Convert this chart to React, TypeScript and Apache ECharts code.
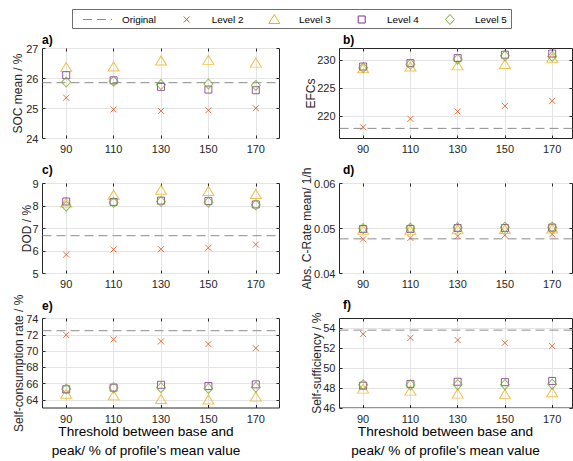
import React, { useEffect, useRef } from 'react';
import * as echarts from 'echarts';

// ---------- data ----------
const thresholds = [90, 110, 130, 150, 170];

const socOrig = 25.86;
const socL2 = [25.36, 24.97, 24.92, 24.94, 25.01];
const socL3 = [26.38, 26.4, 26.6, 26.62, 26.53];
const socL4 = [26.11, 25.94, 25.72, 25.63, 25.61];
const socL5 = [25.88, 25.91, 25.8, 25.82, 25.77];

const efcOrig = 217.8;
const efcL2 = [218.0, 219.5, 220.8, 221.8, 222.7];
const efcL3 = [228.5, 228.8, 229.0, 229.25, 230.35];
const efcL4 = [228.8, 229.4, 230.3, 230.9, 231.1];
const efcL5 = [228.6, 229.2, 230.1, 230.7, 230.6];

const dodOrig = 6.68;
const dodL2 = [5.84, 6.07, 6.08, 6.14, 6.29];
const dodL3 = [8.15, 8.5, 8.72, 8.67, 8.53];
const dodL4 = [8.2, 8.18, 8.24, 8.22, 8.07];
const dodL5 = [7.99, 8.15, 8.2, 8.17, 8.05];

const crOrig = 0.0477;
const crL2 = [0.0476, 0.0479, 0.0483, 0.0485, 0.0487];
const crL3 = [0.0497, 0.0497, 0.0498, 0.0499, 0.05];
const crL4 = [0.0499, 0.0499, 0.0501, 0.0501, 0.0502];
const crL5 = [0.05, 0.0501, 0.0502, 0.0503, 0.0503];

const scOrig = 72.5;
const scL2 = [71.98, 71.44, 71.19, 70.86, 70.36];
const scL3 = [64.75, 64.55, 64.1, 64.05, 64.4];
const scL4 = [65.3, 65.5, 65.85, 65.7, 65.9];
const scL5 = [65.35, 65.5, 65.5, 65.4, 65.55];

const ssOrig = 53.83;
const ssL2 = [53.43, 53.06, 52.83, 52.56, 52.23];
const ssL3 = [47.95, 47.75, 47.45, 47.4, 47.58];
const ssL4 = [48.25, 48.42, 48.64, 48.6, 48.72];
const ssL5 = [48.35, 48.32, 48.35, 48.35, 48.4];

const socTicks = [24, 25, 26, 27];
const efcTicks = [220, 225, 230];
const dodTicks = [5, 6, 7, 8, 9];
const crTicks = [0.04, 0.05, 0.06];
const scTicks = [64, 66, 68, 70, 72, 74];
const ssTicks = [46, 48, 50, 52, 54];

const seriesNames = ['Original', 'Level 2', 'Level 3', 'Level 4', 'Level 5'];
const xLabelLines = ['Threshold between base and', "peak/ % of profile's mean value"];

// ---------- styling ----------
const FONT = "'Liberation Sans', Arial, Helvetica, sans-serif";
const AX = '#262626';
const GRIDC = '#e4e4e4';
const CORIG = '#8c8c8c';
const C2 = '#D95319';
const C3 = '#EDB120';
const C4 = '#7E2F8E';
const C5 = '#77AC30';

const levelStyles = [
  { color: C2, symbol: 'path://M0,0L10,10M10,0L0,10', size: 6 },
  { color: C3, symbol: 'triangle', size: [11, 9] },
  { color: C4, symbol: 'rect', size: 7 },
  { color: C5, symbol: 'diamond', size: [9, 10] },
];

const panels = [
  { letter: 'a)', yName: 'SOC mean / %', yMin: 24, yMax: 27, yTicks: socTicks, dec: 0, orig: socOrig, levels: [socL2, socL3, socL4, socL5] },
  { letter: 'b)', yName: 'EFCs', yMin: 216, yMax: 232, yTicks: efcTicks, dec: 0, orig: efcOrig, levels: [efcL2, efcL3, efcL4, efcL5] },
  { letter: 'c)', yName: 'DOD / %', yMin: 5, yMax: 9, yTicks: dodTicks, dec: 0, orig: dodOrig, levels: [dodL2, dodL3, dodL4, dodL5] },
  { letter: 'd)', yName: 'Abs. C-Rate mean/ 1/h', yMin: 0.04, yMax: 0.06, yTicks: crTicks, dec: 2, orig: crOrig, levels: [crL2, crL3, crL4, crL5] },
  { letter: 'e)', yName: 'Self-consumption rate / %', yMin: 63, yMax: 74, yTicks: scTicks, dec: 0, orig: scOrig, levels: [scL2, scL3, scL4, scL5] },
  { letter: 'f)', yName: 'Self-sufficiency / %', yMin: 46, yMax: 55, yTicks: ssTicks, dec: 0, orig: ssOrig, levels: [ssL2, ssL3, ssL4, ssL5] },
];

const layouts = [
  { left: 42.5, top: 48.5, width: 237, height: 90, xMax: 180, nameX: 18, letterX: 42, letterY: 40 },
  { left: 339.5, top: 48.5, width: 233, height: 90, xMax: 178.6, nameX: 311, letterX: 343, letterY: 40 },
  { left: 42.5, top: 183.5, width: 237, height: 90, xMax: 180, nameX: 26.5, letterX: 42, letterY: 170 },
  { left: 339.5, top: 183.5, width: 233, height: 90, xMax: 178.6, nameX: 306.5, letterX: 343, letterY: 170 },
  { left: 42.5, top: 318.5, width: 237, height: 89.5, xMax: 180, nameX: 18.5, letterX: 42, letterY: 306 },
  { left: 339.5, top: 318.5, width: 233, height: 89.5, xMax: 178.6, nameX: 316.5, letterX: 343, letterY: 305 },
];

const xNameCenters = [146, 445.5];
const xNameLineY = [431.5, 450.5];

function buildOption() {
  const grid: any[] = [];
  const xAxis: any[] = [];
  const yAxis: any[] = [];
  const series: any[] = [];
  const graphic: any[] = [];

  panels.forEach((p, i) => {
    const L = layouts[i];
    grid.push({
      left: L.left, top: L.top, width: L.width, height: L.height,
      show: true, borderColor: AX, borderWidth: 1, backgroundColor: 'transparent',
      containLabel: false, outerBoundsMode: 'none',
    });
    const tickCommon = { show: true, inside: true, length: 3, lineStyle: { color: AX, width: 1 } };
    xAxis.push({
      gridIndex: i, type: 'value', min: 80, max: L.xMax, position: 'bottom',
      axisLine: { show: false },
      axisTick: { ...tickCommon, customValues: thresholds },
      axisLabel: { show: true, customValues: thresholds, color: AX, fontSize: 11, fontFamily: FONT, margin: 5 },
      splitLine: { show: true, lineStyle: { color: GRIDC, width: 1 } },
    });
    xAxis.push({
      gridIndex: i, type: 'value', min: 80, max: L.xMax, position: 'top',
      axisLine: { show: false },
      axisTick: { ...tickCommon, customValues: thresholds },
      axisLabel: { show: false, customValues: thresholds },
      splitLine: { show: false },
    });
    yAxis.push({
      gridIndex: i, type: 'value', min: p.yMin, max: p.yMax, position: 'left',
      axisLine: { show: false },
      axisTick: { ...tickCommon, customValues: p.yTicks },
      axisLabel: {
        show: true, customValues: p.yTicks, color: AX, fontSize: 11, fontFamily: FONT, margin: 4,
        formatter: (v: number) => v.toFixed(p.dec),
      },
      splitLine: { show: true, lineStyle: { color: GRIDC, width: 1 } },
    });
    yAxis.push({
      gridIndex: i, type: 'value', min: p.yMin, max: p.yMax, position: 'right',
      axisLine: { show: false },
      axisTick: { ...tickCommon, customValues: p.yTicks },
      axisLabel: { show: false, customValues: p.yTicks },
      splitLine: { show: false },
    });

    series.push({
      name: seriesNames[0], type: 'line', xAxisIndex: 2 * i, yAxisIndex: 2 * i,
      data: [[80, p.orig], [L.xMax, p.orig]], symbol: 'none', silent: true,
      lineStyle: { color: CORIG, width: 1, type: [9, 5] }, z: 3,
    });
    p.levels.forEach((vals, k) => {
      const st = levelStyles[k];
      series.push({
        name: seriesNames[k + 1], type: 'scatter', xAxisIndex: 2 * i, yAxisIndex: 2 * i,
        data: thresholds.map((t, j) => [t, vals[j]]),
        symbol: st.symbol, symbolSize: st.size, silent: true, z: 4 + k,
        itemStyle: { color: 'transparent', borderColor: st.color, borderWidth: 1 },
      });
    });

    graphic.push({
      type: 'text', x: L.letterX, y: L.letterY,
      style: { text: p.letter, fontSize: 12, fontWeight: 'bold', fontFamily: FONT, fill: '#000', align: 'left', verticalAlign: 'middle' },
    });
    graphic.push({
      type: 'text', x: L.nameX, y: L.top + L.height / 2, rotation: Math.PI / 2,
      style: { text: p.yName, fontSize: 12, fontFamily: FONT, fill: AX, align: 'center', verticalAlign: 'middle' },
    });
  });

  xNameCenters.forEach((cx) => {
    xLabelLines.forEach((t, j) => {
      graphic.push({
        type: 'text', x: cx, y: xNameLineY[j],
        style: { text: t, fontSize: 13.6, fontFamily: FONT, fill: '#000', align: 'center', verticalAlign: 'middle' },
      });
    });
  });

  // legend
  const ly = 19.5;
  const legendFont = { fontSize: 9.9, fontFamily: FONT, fill: '#000', align: 'left', verticalAlign: 'middle' };
  graphic.push({ type: 'rect', shape: { x: 72.5, y: 9.5, width: 439, height: 19 }, style: { fill: '#fff', stroke: '#6e6e6e', lineWidth: 1 }, z: 10 });
  graphic.push({ type: 'line', shape: { x1: 83, y1: ly, x2: 112, y2: ly }, style: { stroke: CORIG, lineWidth: 1, lineDash: [9, 5] }, z: 11 });
  graphic.push({ type: 'text', x: 122, y: ly, style: { text: seriesNames[0], ...legendFont }, z: 11 });
  const iconX = [186.7, 274.3, 361.7, 450];
  const textX = [211.7, 299, 387, 475];
  graphic.push({ type: 'line', shape: { x1: iconX[0] - 3, y1: ly - 3, x2: iconX[0] + 3, y2: ly + 3 }, style: { stroke: C2, lineWidth: 1 }, z: 11 });
  graphic.push({ type: 'line', shape: { x1: iconX[0] - 3, y1: ly + 3, x2: iconX[0] + 3, y2: ly - 3 }, style: { stroke: C2, lineWidth: 1 }, z: 11 });
  graphic.push({ type: 'polygon', shape: { points: [[iconX[1], ly - 5], [iconX[1] + 5.5, ly + 4], [iconX[1] - 5.5, ly + 4]] }, style: { fill: 'none', stroke: C3, lineWidth: 1 }, z: 11 });
  graphic.push({ type: 'rect', shape: { x: iconX[2] - 3.5, y: ly - 3.5, width: 7, height: 7 }, style: { fill: 'none', stroke: C4, lineWidth: 1 }, z: 11 });
  graphic.push({ type: 'polygon', shape: { points: [[iconX[3], ly - 5], [iconX[3] + 4.5, ly], [iconX[3], ly + 5], [iconX[3] - 4.5, ly]] }, style: { fill: 'none', stroke: C5, lineWidth: 1 }, z: 11 });
  for (let k = 0; k < 4; k++) {
    graphic.push({ type: 'text', x: textX[k], y: ly, style: { text: seriesNames[k + 1], ...legendFont }, z: 11 });
  }

  return {
    animation: false,
    backgroundColor: '#fff',
    textStyle: { fontFamily: FONT },
    grid, xAxis, yAxis, series, graphic,
  };
}

export default function App() {
  const ref = useRef<HTMLDivElement>(null);
  useEffect(() => {
    if (!ref.current) return;
    const chart = echarts.init(ref.current, undefined, { renderer: 'svg' });
    chart.setOption(buildOption() as any);
    return () => chart.dispose();
  }, []);
  return (
    <div
      ref={ref}
      style={{ position: 'absolute', left: 0, top: 0, width: 573, height: 461 }}
    />
  );
}
